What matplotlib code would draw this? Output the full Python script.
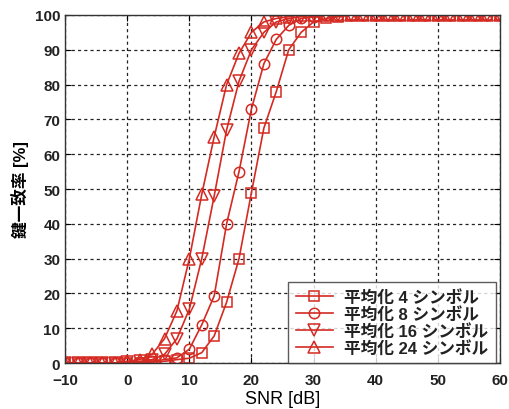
import matplotlib
matplotlib.use('Agg')
import matplotlib.pyplot as plt

plt.rcParams['font.family'] = ['Liberation Sans', 'Noto Sans CJK JP', 'DejaVu Sans']

# SNR [dB]
snr = [-10, -8, -6, -4, -2, 0, 2, 4, 6, 8, 10, 12, 14, 16, 18, 20, 22, 24,
       26, 28, 30, 32, 34, 36, 38, 40, 42, 44, 46, 48, 50, 52, 54, 56, 58, 60]

# key agreement rate [%]
avg4 = [0, 0, 0, 0, 0, 0, 0, 0.3, 0.5, 1, 1.4, 3, 7.8, 17.5, 30, 49, 67.5, 78,
        90, 95, 98, 99, 99.5, 100, 100, 100, 100, 100, 100, 100, 100, 100, 100, 100, 100, 100]
avg8 = [0, 0, 0, 0, 0, 0, 0.3, 0.5, 1, 1.5, 4, 11, 19.3, 40, 55, 73, 86, 93,
        97, 99, 99.5, 100, 100, 100, 100, 100, 100, 100, 100, 100, 100, 100, 100, 100, 100, 100]
avg16 = [0, 0, 0, 0, 0, 0.3, 0.5, 1, 2.5, 7, 15.5, 30, 48, 67, 81, 90, 95, 98,
         99, 99.5, 100, 100, 100, 100, 100, 100, 100, 100, 100, 100, 100, 100, 100, 100, 100, 100]
avg24 = [0, 0, 0, 0, 0, 0.5, 1, 2.5, 7, 15, 30, 48.5, 65, 80, 89, 95, 98, 99,
         99.5, 100, 100, 100, 100, 100, 100, 100, 100, 100, 100, 100, 100, 100, 100, 100, 100, 100]

labels = ['平均化 4 シンボル', '平均化 8 シンボル', '平均化 16 シンボル', '平均化 24 シンボル']
xticks = [-10, 0, 10, 20, 30, 40, 50, 60]
yticks = [0, 10, 20, 30, 40, 50, 60, 70, 80, 90, 100]

red = '#d42a22'

fig = plt.figure(figsize=(5.09, 4.10), dpi=100)
ax = fig.add_axes([0.128, 0.112, 0.854, 0.849])

series = [(avg4, 's', 7), (avg8, 'o', 7.5), (avg16, 'v', 8.5), (avg24, '^', 8.5)]
for (vals, mk, ms), lab in zip(series, labels):
    ax.plot(snr, vals, color=red, lw=1.2, marker=mk, ms=ms, mfc='none',
            mec=red, mew=1.1, label=lab)

ax.set_xlim(-10, 60)
ax.set_ylim(0, 100)
ax.set_xticks(xticks)
ax.set_yticks(yticks)
ax.set_xticklabels(['\u221210'] + [str(t) for t in xticks[1:]])
ax.grid(True, color='#222222', linestyle=(0, (2.5, 2.5)), linewidth=0.9)
ax.tick_params(direction='in', top=True, right=True, length=4, labelsize=11)
ax.tick_params(axis='x', pad=7)
for t in ax.get_xticklabels() + ax.get_yticklabels():
    t.set_fontweight('bold')
    t.set_color('#222222')
for s in ax.spines.values():
    s.set_linewidth(1.0)
    s.set_color('#333333')

ax.set_xlabel('SNR [dB]', fontsize=13, labelpad=2)
ax.set_ylabel('鍵一致率 [%]', fontsize=12, fontweight='bold', labelpad=4)

leg = ax.legend(loc='lower right', bbox_to_anchor=(0.991, 0.0), fontsize=12,
                frameon=True, fancybox=False, edgecolor='#333333',
                labelspacing=0.05, handlelength=2.2, borderpad=0.45,
                borderaxespad=0.0, handletextpad=0.7)
leg.get_frame().set_linewidth(1.0)
for t in leg.get_texts():
    t.set_fontweight('bold')
    t.set_color('#222222')

fig.savefig('out.png', dpi=100)
